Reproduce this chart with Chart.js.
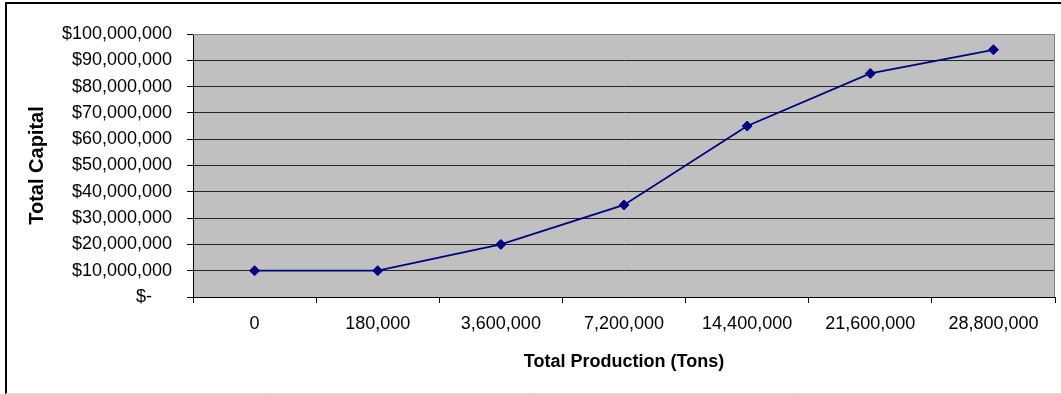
<!DOCTYPE html>
<html>
<head>
<meta charset="utf-8">
<script src="https://cdn.jsdelivr.net/npm/chart.js@4/dist/chart.umd.min.js"></script>
<style>
  html, body { margin: 0; padding: 0; background: #fff; overflow: hidden; }
  #wrap { position: relative; width: 1061px; height: 394px; }
  canvas { display: block; }
</style>
</head>
<body>
<div id="wrap"><canvas id="c" width="1061" height="394"></canvas></div>
<script>
// Production levels (tons) and the capital required for each
const categories = ['0', '180,000', '3,600,000', '7,200,000', '14,400,000', '21,600,000', '28,800,000'];
const totalCapital = [10000000, 10000000, 20000000, 35000000, 65000000, 85000000, 94000000];

// Value axis range
const yMin = 0;
const yMax = 100000000;
const yStep = 10000000;

const FONT = "'Liberation Sans', Arial, sans-serif";

function money(v) {
  if (v === 0) return '$-    ';
  return '$' + v.toLocaleString('en-US');
}

// Grey plot area, outer frame and plot border
const frame = {
  id: 'frame',
  beforeDraw(chart) {
    const { ctx, chartArea: a } = chart;
    ctx.save();
    ctx.fillStyle = '#ffffff';
    ctx.fillRect(0, 0, chart.width, chart.height);
    ctx.fillStyle = '#c0c0c0';
    ctx.fillRect(a.left, a.top, a.right - a.left, a.bottom - a.top);
    ctx.restore();
  },
  beforeDatasetsDraw(chart) {
    const { ctx, chartArea: a } = chart;
    ctx.save();
    ctx.strokeStyle = '#808080';
    ctx.lineWidth = 1;
    ctx.beginPath();
    ctx.moveTo(a.left, a.top + 0.5);
    ctx.lineTo(a.right - 0.5, a.top + 0.5);
    ctx.lineTo(a.right - 0.5, a.bottom);
    ctx.stroke();
    ctx.restore();
  },
  afterDraw(chart) {
    const { ctx } = chart;
    ctx.save();
    ctx.strokeStyle = '#000';
    ctx.lineWidth = 2;
    ctx.beginPath();
    ctx.moveTo(6, 394);
    ctx.lineTo(6, 3);
    ctx.lineTo(1061, 3);
    ctx.stroke();
    ctx.strokeStyle = '#d8d8d8';
    ctx.lineWidth = 1;
    ctx.beginPath();
    ctx.moveTo(6, 393.5);
    ctx.lineTo(1061, 393.5);
    ctx.stroke();
    ctx.restore();
  }
};

new Chart(document.getElementById('c'), {
  type: 'line',
  data: {
    labels: categories,
    datasets: [{
      data: totalCapital,
      borderColor: '#000080',
      backgroundColor: '#000080',
      borderWidth: 1.75,
      pointStyle: 'rectRot',
      pointRadius: 5,
      pointBorderWidth: 1,
      pointBackgroundColor: '#000080',
      pointBorderColor: '#000080',
      tension: 0,
      fill: false
    }]
  },
  options: {
    responsive: false,
    devicePixelRatio: 1,
    animation: false,
    layout: { padding: { top: 34, right: 3, left: 0, bottom: 0 } },
    plugins: { legend: { display: false }, tooltip: { enabled: false } },
    scales: {
      x: {
        type: 'category',
        offset: true,
        afterFit(s) { s.height = 97; },
        grid: { offset: true, drawOnChartArea: false, tickLength: 6, color: '#000', lineWidth: 1 },
        border: { color: '#000', width: 1 },
        ticks: { font: { family: FONT, size: 18 }, color: '#000', padding: 10, maxRotation: 0, autoSkip: false },
        title: {
          display: true,
          text: 'Total Production (Tons)',
          font: { family: FONT, size: 18, weight: 'bold' },
          color: '#000',
          padding: { top: 0, bottom: 21 }
        }
      },
      y: {
        min: yMin,
        max: yMax,
        afterFit(s) { s.width = 193; },
        grid: {
          color: (c) => (c.tick && c.tick.value === yMax ? '#808080' : '#262626'),
          tickColor: '#000',
          tickLength: 6,
          lineWidth: 1
        },
        border: { color: '#000', width: 1 },
        ticks: {
          stepSize: yStep,
          font: { family: FONT, size: 18 },
          color: '#000',
          padding: 15,
          callback: (v) => money(v)
        },
        title: {
          display: true,
          text: 'Total Capital',
          font: { family: FONT, size: 20, weight: 'bold' },
          color: '#000',
          padding: { top: 25, bottom: 0 }
        }
      }
    }
  },
  plugins: [frame]
});
</script>
</body>
</html>
